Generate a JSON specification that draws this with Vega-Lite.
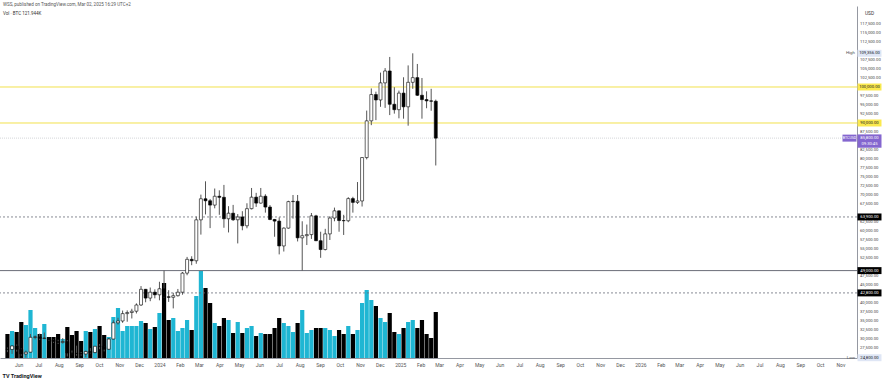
{
  "$schema": "https://vega.github.io/schema/vega-lite/v6.json",
  "width": 857,
  "height": 352,
  "autosize": "none",
  "padding": {"left": 0, "top": 6, "right": 25, "bottom": 21},
  "background": "#ffffff",
  "config": {"view": {"stroke": null}, "font": "Roboto", "axis": {"labelOverlap": false}, "axisY": {"labelOverlap": false}, "axisRight": {"labelOverlap": false}},
  "title": {
    "text": "WSS, published on TradingView.com, Mar 02, 2025 16:29 UTC+2",
    "subtitle": "Vol · BTC  121.944K",
    "anchor": "start",
    "frame": "group",
    "offset": -9,
    "dx": 3,
    "fontSize": 4.5,
    "fontWeight": "normal",
    "color": "#555555",
    "subtitleFontSize": 4.5,
    "subtitleColor": "#333333",
    "subtitlePadding": 4
  },
  "datasets": {
    "candles": [
      {"d": "2023-05-15", "o": 27160, "h": 27650, "l": 26350, "c": 27100, "v": 63600},
      {"d": "2023-05-22", "o": 27100, "h": 28250, "l": 25870, "c": 28070, "v": 71550},
      {"d": "2023-05-29", "o": 28070, "h": 28450, "l": 26500, "c": 27120, "v": 68900},
      {"d": "2023-06-05", "o": 27120, "h": 27350, "l": 25350, "c": 25840, "v": 95400},
      {"d": "2023-06-12", "o": 25840, "h": 26800, "l": 24800, "c": 26340, "v": 87450},
      {"d": "2023-06-19", "o": 26340, "h": 31390, "l": 26250, "c": 30470, "v": 127200},
      {"d": "2023-06-26", "o": 30470, "h": 31000, "l": 29900, "c": 30590, "v": 79500},
      {"d": "2023-07-03", "o": 30590, "h": 31500, "l": 29700, "c": 30170, "v": 63600},
      {"d": "2023-07-10", "o": 30170, "h": 31800, "l": 29950, "c": 30250, "v": 90100},
      {"d": "2023-07-17", "o": 30250, "h": 30350, "l": 29500, "c": 29780, "v": 55650},
      {"d": "2023-07-24", "o": 29780, "h": 29990, "l": 28900, "c": 29280, "v": 55650},
      {"d": "2023-07-31", "o": 29280, "h": 29800, "l": 28600, "c": 29050, "v": 63600},
      {"d": "2023-08-07", "o": 29050, "h": 30250, "l": 28700, "c": 29300, "v": 50350},
      {"d": "2023-08-14", "o": 29300, "h": 29680, "l": 25150, "c": 26100, "v": 82150},
      {"d": "2023-08-21", "o": 26100, "h": 26800, "l": 25800, "c": 26000, "v": 60950},
      {"d": "2023-08-28", "o": 26000, "h": 28150, "l": 25350, "c": 25970, "v": 71550},
      {"d": "2023-09-04", "o": 25970, "h": 26400, "l": 25350, "c": 25840, "v": 45050},
      {"d": "2023-09-11", "o": 25840, "h": 26800, "l": 24900, "c": 26530, "v": 71550},
      {"d": "2023-09-18", "o": 26530, "h": 27480, "l": 26000, "c": 26250, "v": 68900},
      {"d": "2023-09-25", "o": 26250, "h": 28050, "l": 25990, "c": 27980, "v": 76850},
      {"d": "2023-10-02", "o": 27980, "h": 28600, "l": 27160, "c": 27930, "v": 84800},
      {"d": "2023-10-09", "o": 27930, "h": 27990, "l": 26550, "c": 27150, "v": 60950},
      {"d": "2023-10-16", "o": 27150, "h": 30300, "l": 26950, "c": 29990, "v": 55650},
      {"d": "2023-10-23", "o": 29990, "h": 35200, "l": 29900, "c": 34500, "v": 108650},
      {"d": "2023-10-30", "o": 34500, "h": 35900, "l": 34000, "c": 35000, "v": 132500},
      {"d": "2023-11-06", "o": 35000, "h": 37900, "l": 34500, "c": 37050, "v": 71550},
      {"d": "2023-11-13", "o": 37050, "h": 37950, "l": 34800, "c": 37360, "v": 84800},
      {"d": "2023-11-20", "o": 37360, "h": 38400, "l": 35700, "c": 37720, "v": 84800},
      {"d": "2023-11-27", "o": 37720, "h": 39900, "l": 37100, "c": 39450, "v": 84800},
      {"d": "2023-12-04", "o": 39450, "h": 44700, "l": 39200, "c": 43800, "v": 98050},
      {"d": "2023-12-11", "o": 43800, "h": 43900, "l": 40200, "c": 41370, "v": 92750},
      {"d": "2023-12-18", "o": 41370, "h": 44300, "l": 40500, "c": 43000, "v": 76850},
      {"d": "2023-12-25", "o": 43000, "h": 43800, "l": 41300, "c": 42280, "v": 82150},
      {"d": "2024-01-01", "o": 42280, "h": 45900, "l": 40750, "c": 43950, "v": 119250},
      {"d": "2024-01-08", "o": 43950, "h": 49000, "l": 41500, "c": 41730, "v": 198750},
      {"d": "2024-01-15", "o": 41730, "h": 43550, "l": 40300, "c": 41580, "v": 100700},
      {"d": "2024-01-22", "o": 41580, "h": 42850, "l": 38500, "c": 42030, "v": 106000},
      {"d": "2024-01-29", "o": 42030, "h": 43900, "l": 41800, "c": 43000, "v": 71550},
      {"d": "2024-02-05", "o": 43000, "h": 48600, "l": 42300, "c": 48300, "v": 79500},
      {"d": "2024-02-12", "o": 48300, "h": 52800, "l": 47700, "c": 52130, "v": 100700},
      {"d": "2024-02-19", "o": 52130, "h": 52980, "l": 50500, "c": 51730, "v": 74200},
      {"d": "2024-02-26", "o": 51730, "h": 64000, "l": 50900, "c": 63100, "v": 164300},
      {"d": "2024-03-04", "o": 63100, "h": 70100, "l": 59000, "c": 68950, "v": 230550},
      {"d": "2024-03-11", "o": 68950, "h": 73800, "l": 64600, "c": 68400, "v": 185500},
      {"d": "2024-03-18", "o": 68400, "h": 68900, "l": 60800, "c": 67200, "v": 145750},
      {"d": "2024-03-25", "o": 67200, "h": 71800, "l": 66300, "c": 69650, "v": 92750},
      {"d": "2024-04-01", "o": 69650, "h": 71300, "l": 64500, "c": 69360, "v": 84800},
      {"d": "2024-04-08", "o": 69360, "h": 72800, "l": 60900, "c": 63400, "v": 106000},
      {"d": "2024-04-15", "o": 63400, "h": 66900, "l": 59600, "c": 64940, "v": 100700},
      {"d": "2024-04-22", "o": 64940, "h": 67250, "l": 62800, "c": 63120, "v": 66250},
      {"d": "2024-04-29", "o": 63120, "h": 64700, "l": 56550, "c": 63900, "v": 95400},
      {"d": "2024-05-06", "o": 63900, "h": 65500, "l": 60200, "c": 61450, "v": 66250},
      {"d": "2024-05-13", "o": 61450, "h": 67700, "l": 60750, "c": 66200, "v": 79500},
      {"d": "2024-05-20", "o": 66200, "h": 71950, "l": 66000, "c": 69400, "v": 84800},
      {"d": "2024-05-27", "o": 69400, "h": 70600, "l": 66700, "c": 67750, "v": 58300},
      {"d": "2024-06-03", "o": 67750, "h": 71950, "l": 67600, "c": 69650, "v": 66250},
      {"d": "2024-06-10", "o": 69650, "h": 70200, "l": 65100, "c": 66650, "v": 63600},
      {"d": "2024-06-17", "o": 66650, "h": 67200, "l": 63000, "c": 63200, "v": 63600},
      {"d": "2024-06-24", "o": 63200, "h": 63350, "l": 58400, "c": 62750, "v": 79500},
      {"d": "2024-07-01", "o": 62750, "h": 63800, "l": 53500, "c": 55850, "v": 106000},
      {"d": "2024-07-08", "o": 55850, "h": 61000, "l": 54300, "c": 60800, "v": 92750},
      {"d": "2024-07-15", "o": 60800, "h": 68400, "l": 60650, "c": 68160, "v": 84800},
      {"d": "2024-07-22", "o": 68160, "h": 70000, "l": 63450, "c": 68250, "v": 68900},
      {"d": "2024-07-29", "o": 68250, "h": 70000, "l": 57100, "c": 58100, "v": 92750},
      {"d": "2024-08-05", "o": 58100, "h": 62700, "l": 49000, "c": 58700, "v": 127200},
      {"d": "2024-08-12", "o": 58700, "h": 61800, "l": 56100, "c": 59000, "v": 66250},
      {"d": "2024-08-19", "o": 59000, "h": 65000, "l": 57800, "c": 64200, "v": 74200},
      {"d": "2024-08-26", "o": 64200, "h": 64500, "l": 57200, "c": 57300, "v": 79500},
      {"d": "2024-09-02", "o": 57300, "h": 59800, "l": 52550, "c": 54850, "v": 79500},
      {"d": "2024-09-09", "o": 54850, "h": 60600, "l": 54600, "c": 59200, "v": 79500},
      {"d": "2024-09-16", "o": 59200, "h": 64100, "l": 57500, "c": 63600, "v": 74200},
      {"d": "2024-09-23", "o": 63600, "h": 66500, "l": 62700, "c": 65600, "v": 58300},
      {"d": "2024-09-30", "o": 65600, "h": 65700, "l": 59800, "c": 62900, "v": 74200},
      {"d": "2024-10-07", "o": 62900, "h": 64500, "l": 58900, "c": 62850, "v": 63600},
      {"d": "2024-10-14", "o": 62850, "h": 69400, "l": 62450, "c": 69000, "v": 84800},
      {"d": "2024-10-21", "o": 69000, "h": 69500, "l": 65100, "c": 67950, "v": 63600},
      {"d": "2024-10-28", "o": 67950, "h": 73600, "l": 67500, "c": 68350, "v": 74200},
      {"d": "2024-11-04", "o": 68350, "h": 80500, "l": 66800, "c": 80400, "v": 145750},
      {"d": "2024-11-11", "o": 80400, "h": 93450, "l": 79900, "c": 90600, "v": 180200},
      {"d": "2024-11-18", "o": 90600, "h": 99600, "l": 89400, "c": 97900, "v": 153700},
      {"d": "2024-11-25", "o": 97900, "h": 98700, "l": 90800, "c": 96400, "v": 137800},
      {"d": "2024-12-02", "o": 96400, "h": 104000, "l": 94500, "c": 101150, "v": 106000},
      {"d": "2024-12-09", "o": 101150, "h": 105250, "l": 94200, "c": 104450, "v": 95400},
      {"d": "2024-12-16", "o": 104450, "h": 108350, "l": 92200, "c": 95200, "v": 119250},
      {"d": "2024-12-23", "o": 95200, "h": 99950, "l": 92600, "c": 93700, "v": 68900},
      {"d": "2024-12-30", "o": 93700, "h": 99000, "l": 91300, "c": 98300, "v": 63600},
      {"d": "2025-01-06", "o": 98300, "h": 102700, "l": 91200, "c": 94500, "v": 79500},
      {"d": "2025-01-13", "o": 94500, "h": 106000, "l": 89250, "c": 101300, "v": 95400},
      {"d": "2025-01-20", "o": 101300, "h": 109356, "l": 99500, "c": 102600, "v": 100700},
      {"d": "2025-01-27", "o": 102600, "h": 106400, "l": 97500, "c": 97700, "v": 79500},
      {"d": "2025-02-03", "o": 97700, "h": 102500, "l": 91200, "c": 96500, "v": 100700},
      {"d": "2025-02-10", "o": 96500, "h": 98800, "l": 94100, "c": 96150, "v": 63600},
      {"d": "2025-02-17", "o": 96150, "h": 99500, "l": 93400, "c": 96050, "v": 53000},
      {"d": "2025-02-24", "o": 96050, "h": 96500, "l": 78200, "c": 85800, "v": 121944}
    ],
    "levels": [
      {"price": 100000, "kind": "yellow"},
      {"price": 90000, "kind": "yellow"},
      {"price": 63900, "kind": "dotted"},
      {"price": 49000, "kind": "solid"},
      {"price": 42800, "kind": "dotted"},
      {"price": 85800, "kind": "last"}
    ],
    "badges": [
      {"price": 109356, "label": "109,356.00", "kind": "high", "side": "High"},
      {"price": 100000, "label": "100,000.00", "kind": "yellow", "side": ""},
      {"price": 90000, "label": "90,000.00", "kind": "yellow", "side": ""},
      {"price": 63900, "label": "63,900.00", "kind": "black", "side": ""},
      {"price": 49000, "label": "49,000.00", "kind": "black", "side": ""},
      {"price": 42800, "label": "42,800.00", "kind": "black", "side": ""},
      {"price": 24800, "label": "24,800.00", "kind": "low", "side": "Low"}
    ],
    "last": [
      {"price": 85800, "label": "85,800.00", "timer": "09:30:45", "tag": "BTCUSD"}
    ],
    "ticks": [
      {"price": 27500}, {"price": 30000}, {"price": 32500}, {"price": 35000}, {"price": 37500},
      {"price": 40000}, {"price": 45000}, {"price": 47500}, {"price": 52500}, {"price": 55000},
      {"price": 57500}, {"price": 60000}, {"price": 62500}, {"price": 67500}, {"price": 70000},
      {"price": 72500}, {"price": 75000}, {"price": 77500}, {"price": 80000}, {"price": 82500},
      {"price": 87500}, {"price": 92500}, {"price": 95000}, {"price": 97500}, {"price": 102500},
      {"price": 105000}, {"price": 107500}, {"price": 112500}, {"price": 115000}, {"price": 117500}
    ]
  },
  "layer": [
    {
      "data": {"name": "candles"},
      "mark": {"type": "bar", "size": 4.2},
      "encoding": {
        "x": {
          "field": "d",
          "type": "temporal",
          "scale": {
            "type": "utc",
            "domain": [
              {"year": 2023, "month": 5, "date": 11, "hours": 6, "utc": true},
              {"year": 2026, "month": 11, "date": 18, "hours": 15, "utc": true}
            ]
          },
          "axis": {
            "title": "TV TradingView",
            "titleX": 2,
            "titleY": 15,
            "titleAlign": "left",
            "titleAnchor": "start",
            "titleFontSize": 5.5,
            "titleFontWeight": "bold",
            "titleColor": "#131722",
            "tickCount": {"interval": "month", "step": 1},
            "labelExpr": "utcFormat(datum.value, '%m') == '01' ? utcFormat(datum.value, '%Y') : utcFormat(datum.value, '%b')",
            "labelFontSize": 5,
            "labelColor": "#555555",
            "labelPadding": 4,
            "labelOverlap": false,
            "labelFlush": false,
            "ticks": false,
            "grid": false,
            "domainColor": "#9598a1",
            "domainWidth": 1
          }
        },
        "y": {
          "field": "v",
          "type": "quantitative",
          "scale": {"domain": [0, 932800], "nice": false, "zero": true},
          "axis": null
        },
        "color": {
          "condition": {"test": "datum.c >= datum.o", "value": "#1fb6d3"},
          "value": "#000000"
        }
      }
    },
    {
      "layer": [
        {
          "data": {"name": "levels"},
          "transform": [{"filter": "datum.kind == 'yellow'"}],
          "mark": {"type": "rule", "color": "#f2e14c", "strokeWidth": 1},
          "encoding": {
            "y": {
              "field": "price",
              "type": "quantitative",
              "scale": {"domain": [24722, 122500], "nice": false, "zero": false},
              "axis": {
                "orient": "right",
                "title": "USD",
                "titleAngle": 0,
                "titleX": 12,
                "titleY": 7,
                "titleAlign": "center",
                "titleBaseline": "middle",
                "titleFontSize": 4.8,
                "titleFontWeight": "normal",
                "titleColor": "#333333",
                "labels": false,
                "ticks": false,
                "grid": false,
                "domainColor": "#9598a1",
                "domainWidth": 1
              }
            }
          }
        },
        {
          "data": {"name": "levels"},
          "transform": [{"filter": "datum.kind == 'dotted'"}],
          "mark": {"type": "rule", "color": "#6a6d78", "strokeWidth": 0.8, "strokeDash": [2, 2]},
          "encoding": {
            "y": {"field": "price", "type": "quantitative", "scale": {"domain": [24722, 122500], "nice": false, "zero": false}}
          }
        },
        {
          "data": {"name": "levels"},
          "transform": [{"filter": "datum.kind == 'solid'"}],
          "mark": {"type": "rule", "color": "#6a6d78", "strokeWidth": 1},
          "encoding": {
            "y": {"field": "price", "type": "quantitative", "scale": {"domain": [24722, 122500], "nice": false, "zero": false}}
          }
        },
        {
          "data": {"name": "levels"},
          "transform": [{"filter": "datum.kind == 'last'"}],
          "mark": {"type": "rule", "color": "#c9cbd1", "strokeWidth": 0.8, "strokeDash": [1, 1]},
          "encoding": {
            "y": {"field": "price", "type": "quantitative", "scale": {"domain": [24722, 122500], "nice": false, "zero": false}}
          }
        },
        {
          "data": {"name": "ticks"},
          "mark": {"type": "text", "x": {"expr": "width + 3"}, "align": "left", "baseline": "middle", "fontSize": 4.2, "color": "#444444"},
          "encoding": {
            "y": {"field": "price", "type": "quantitative", "scale": {"domain": [24722, 122500], "nice": false, "zero": false}},
            "text": {"field": "price", "format": ",.2f"}
          }
        },
        {
          "data": {"name": "candles"},
          "mark": {"type": "rule", "color": "#555555", "strokeWidth": 1},
          "encoding": {
            "x": {"field": "d", "type": "temporal"},
            "y": {"field": "l", "type": "quantitative", "scale": {"domain": [24722, 122500], "nice": false, "zero": false}},
            "y2": {"field": "h"}
          }
        },
        {
          "data": {"name": "candles"},
          "mark": {"type": "bar", "size": 3, "stroke": "#000000", "strokeWidth": 0.6},
          "encoding": {
            "x": {"field": "d", "type": "temporal"},
            "y": {"field": "o", "type": "quantitative", "scale": {"domain": [24722, 122500], "nice": false, "zero": false}},
            "y2": {"field": "c"},
            "fill": {
              "condition": {"test": "datum.c >= datum.o", "value": "#ffffff"},
              "value": "#000000"
            }
          }
        },
        {
          "data": {"name": "badges"},
          "mark": {"type": "point", "x": {"expr": "width + 12.5"}, "shape": "M-1,-0.29L1,-0.29L1,0.29L-1,0.29Z", "size": 576, "filled": true, "opacity": 1, "strokeWidth": 0},
          "encoding": {
            "y": {"field": "price", "type": "quantitative", "scale": {"domain": [24722, 122500], "nice": false, "zero": false}},
            "fill": {
              "condition": [
                {"test": "datum.kind == 'yellow'", "value": "#fbe94e"},
                {"test": "datum.kind == 'black'", "value": "#000000"}
              ],
              "value": "#dfe6f5"
            }
          }
        },
        {
          "data": {"name": "badges"},
          "mark": {"type": "text", "x": {"expr": "width + 12.5"}, "align": "center", "baseline": "middle", "fontSize": 4.2},
          "encoding": {
            "y": {"field": "price", "type": "quantitative", "scale": {"domain": [24722, 122500], "nice": false, "zero": false}},
            "text": {"field": "label"},
            "color": {
              "condition": {"test": "datum.kind == 'black'", "value": "#ffffff"},
              "value": "#131722"
            }
          }
        },
        {
          "data": {"name": "badges"},
          "mark": {"type": "text", "x": {"expr": "width - 2"}, "align": "right", "baseline": "middle", "fontSize": 4.4, "color": "#555555"},
          "encoding": {
            "y": {"field": "price", "type": "quantitative", "scale": {"domain": [24722, 122500], "nice": false, "zero": false}},
            "text": {"field": "side"}
          }
        },
        {
          "data": {"name": "last"},
          "mark": {"type": "point", "x": {"expr": "width + 12.5"}, "shape": "M-1,-0.31L1,-0.31L1,0.8L-1,0.8Z", "size": 576, "filled": true, "opacity": 1, "strokeWidth": 0, "color": "#8466cf"},
          "encoding": {
            "y": {"field": "price", "type": "quantitative", "scale": {"domain": [24722, 122500], "nice": false, "zero": false}}
          }
        },
        {
          "data": {"name": "last"},
          "mark": {"type": "point", "x": {"expr": "width - 7.5"}, "shape": "M-1,-0.5L1,-0.5L1,0.5L-1,0.5Z", "size": 196, "filled": true, "opacity": 1, "strokeWidth": 0, "color": "#8466cf"},
          "encoding": {
            "y": {"field": "price", "type": "quantitative", "scale": {"domain": [24722, 122500], "nice": false, "zero": false}}
          }
        },
        {
          "data": {"name": "last"},
          "mark": {"type": "text", "x": {"expr": "width - 7.5"}, "align": "center", "baseline": "middle", "fontSize": 3.6, "color": "#ffffff"},
          "encoding": {
            "y": {"field": "price", "type": "quantitative", "scale": {"domain": [24722, 122500], "nice": false, "zero": false}},
            "text": {"field": "tag"}
          }
        },
        {
          "data": {"name": "last"},
          "mark": {"type": "text", "x": {"expr": "width + 12.5"}, "align": "center", "baseline": "middle", "fontSize": 4.2, "color": "#ffffff"},
          "encoding": {
            "y": {"field": "price", "type": "quantitative", "scale": {"domain": [24722, 122500], "nice": false, "zero": false}},
            "text": {"field": "label"}
          }
        },
        {
          "data": {"name": "last"},
          "mark": {"type": "text", "x": {"expr": "width + 12.5"}, "dy": 6, "align": "center", "baseline": "middle", "fontSize": 4.2, "color": "#ffffff"},
          "encoding": {
            "y": {"field": "price", "type": "quantitative", "scale": {"domain": [24722, 122500], "nice": false, "zero": false}},
            "text": {"field": "timer"}
          }
        }
      ]
    }
  ],
  "resolve": {"scale": {"y": "independent"}}
}
